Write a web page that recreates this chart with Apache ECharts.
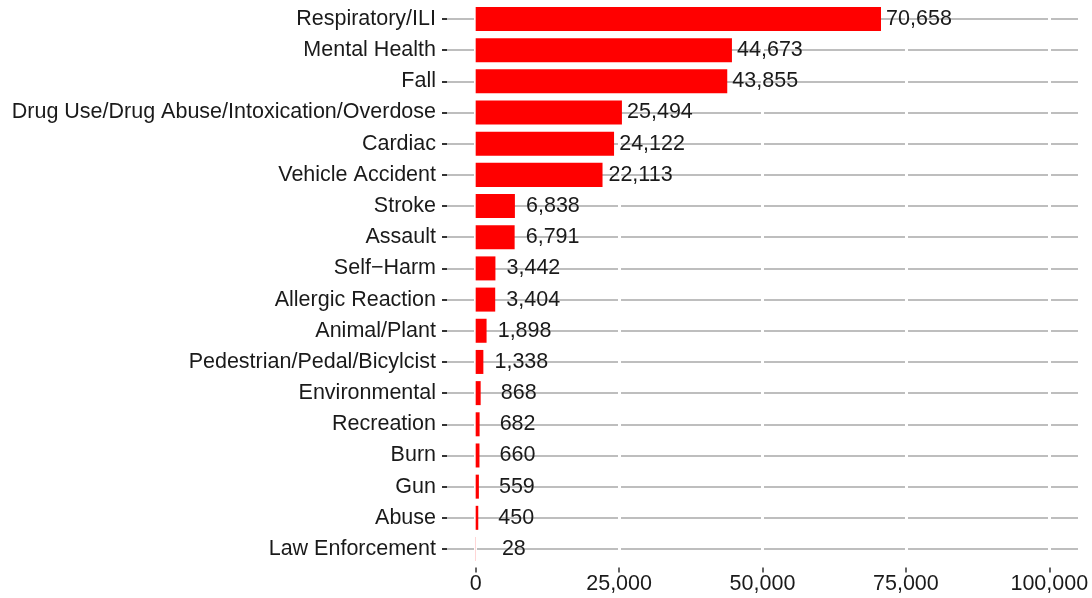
<!DOCTYPE html>
<html>
<head>
<meta charset="utf-8">
<script src="https://cdn.jsdelivr.net/npm/echarts@6/dist/echarts.min.js"></script>
<style>
html,body{margin:0;padding:0;background:#fff;}
#main{width:1092px;height:598px;}
</style>
</head>
<body>
<div id="main"></div>
<script>
// categories top to bottom
var categories = ['Respiratory/ILI','Mental Health','Fall','Drug Use/Drug Abuse/Intoxication/Overdose','Cardiac','Vehicle Accident','Stroke','Assault','Self\u2212Harm','Allergic Reaction','Animal/Plant','Pedestrian/Pedal/Bicylcist','Environmental','Recreation','Burn','Gun','Abuse','Law Enforcement'];
var counts = [70658,44673,43855,25494,24122,22113,6838,6791,3442,3404,1898,1338,868,682,660,559,450,28];
var xTicks = [0,25000,50000,75000,100000];

var FONT = 'Liberation Sans';
var TEXT_COLOR = '#1A1A1A';
var FONT_SIZE = 21.5;

function fmt(v){
	return String(v).replace(/\B(?=(\d{3})+(?!\d))/g, ',');
}

var myChart = echarts.init(document.getElementById('main'));
myChart.setOption({
	animation:false,
	grid:{
		left:447,
		right:14,
		top:3.4,
		bottom:33.4,
		containLabel:false
	},
	xAxis:{
		type:'value',
		min:-5000,
		max:105000,
		z:1,
		offset:3,
		axisLine:{show:false},
		axisTick:{
			show:true,
			customValues:xTicks,
			length:5,
			lineStyle:{color:'#333333',width:1.5}
		},
		axisLabel:{
			customValues:xTicks,
			margin:5,
			color:TEXT_COLOR,
			fontFamily:FONT,
			fontSize:FONT_SIZE,
			formatter:function(v){return fmt(v);}
		},
		splitLine:{
			show:true,
			lineStyle:{color:'#FFFFFF',width:3}
		}
	},
	yAxis:{
		type:'category',
		inverse:true,
		data:categories,
		z:0,
		axisLine:{show:false,onZero:false},
		axisTick:{
			show:true,
			alignWithLabel:true,
			interval:0,
			length:5,
			lineStyle:{color:'#333333',width:2}
		},
		axisLabel:{
			interval:0,
			margin:11,
			color:TEXT_COLOR,
			fontFamily:FONT,
			fontSize:FONT_SIZE
		},
		splitLine:{
			show:true,
			alignWithLabel:true,
			interval:0,
			lineStyle:{color:'#BEBEBE',width:2}
		}
	},
	series:[{
		type:'bar',
		data:counts,
		barWidth:'77%',
		z:2,
		itemStyle:{color:'#FF0000'},
		label:{
			show:true,
			position:'right',
			distance:38,
			align:'center',
			color:TEXT_COLOR,
			fontFamily:FONT,
			fontSize:FONT_SIZE,
			formatter:function(p){return fmt(p.value);}
		}
	}]
});
</script>
</body>
</html>
